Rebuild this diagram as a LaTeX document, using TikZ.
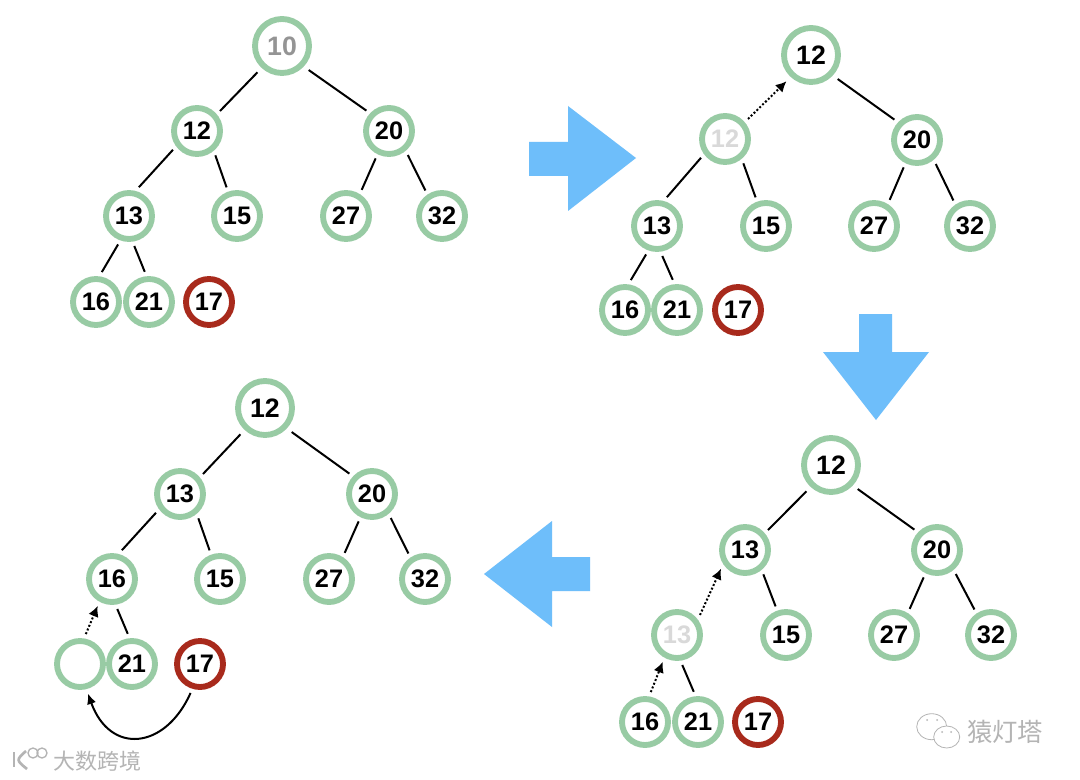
\documentclass[tikz,border=0pt]{standalone}
\usepackage{fontspec}
\setmainfont{Liberation Sans}
\newfontfamily\cjkfont{Noto Sans CJK SC}
\usetikzlibrary{arrows.meta}
\definecolor{ndgreen}{HTML}{98CBA4}
\definecolor{ndred}{HTML}{A82A1C}
\definecolor{bigblue}{HTML}{6EBEFA}
\definecolor{wmgray}{HTML}{B4B4B4}
\tikzset{
  x=0.75pt,y=-0.75pt,
  nd/.style={circle,draw=ndgreen,line width=4.4pt,fill=white,minimum size=34.5pt,inner sep=0pt,outer sep=5.6pt,font=\fontsize{19}{19}\selectfont\bfseries,text=black},
  rootnd/.style={nd,minimum size=40.5pt,outer sep=6.7pt,font=\fontsize{20}{20}\selectfont\bfseries},
  rednd/.style={nd,draw=ndred},
  ghost/.style={text=black!15},
  edge/.style={draw=black,line width=1.5pt},
  dotarrow/.style={draw=black,line width=1.5pt,dash pattern=on 1.5pt off 1.5pt,-{Latex[length=8pt,width=8pt]}},
  curvearrow/.style={draw=black,line width=1.5pt,-{Latex[length=8pt,width=7pt]}},
  bigarrow/.style={fill=bigblue,draw=none},
  marktext/.style={text=wmgray,inner sep=0pt},
  markline/.style={draw=wmgray,line width=0.6pt,fill=white}
}
\newcommand{\commonedges}[1]{%
  \draw[edge] (#1R.-42) -- (#1r.138);
  \draw[edge] (#1l.-53) -- (#1lr.110);
  \draw[edge] (#1r.-116) -- (#1rl.59);
  \draw[edge] (#1r.-52) -- (#1rr.123);
  \draw[edge] (#1ll.-80) -- (#1b.98);
}
\begin{document}
\begin{tikzpicture}
\useasboundingbox (0,0) rectangle (1080,780);
\fill[white] (0,0) rectangle (1080,780);

% big arrows
\fill[bigarrow] (529,142) -- (568,142) -- (568,106) -- (636,158) -- (568,211) -- (568,176) -- (529,176) -- cycle;
\fill[bigarrow] (859,314) -- (892,314) -- (892,352) -- (929,352) -- (876,420) -- (823,352) -- (859,352) -- cycle;
\fill[bigarrow] (590,557) -- (552,557) -- (552,521) -- (484,574) -- (552,627) -- (552,591) -- (590,591) -- cycle;

% tree 1
\node[rootnd,text=black!42] (aR) at (282,46) {10};
\node[nd] (al) at (197,131) {12};
\node[nd] (ar) at (389,131) {20};
\node[nd] (all) at (129,216) {13};
\node[nd] (alr) at (237,216) {15};
\node[nd] (arl) at (346,216) {27};
\node[nd] (arr) at (442,216) {32};
\node[nd] (aa) at (96,302) {16};
\node[nd] (ab) at (149,302) {21};
\node[rednd] (ac) at (209,302) {17};
\commonedges{a}
\draw[edge] (aR.-133) -- (al.41);
\draw[edge] (al.-142) -- (all.71);
\draw[edge] (all.-111) -- (aa.79);

% tree 2
\node[rootnd] (bR) at (811,55) {12};
\node[nd,ghost] (bl) at (725,139) {12};
\node[nd] (br) at (917,140) {20};
\node[nd] (bll) at (657,226) {13};
\node[nd] (blr) at (766,226) {15};
\node[nd] (brl) at (874,226) {27};
\node[nd] (brr) at (970,226) {32};
\node[nd] (ba) at (625,310) {16};
\node[nd] (bb) at (677,310) {21};
\node[rednd] (bc) at (738,310) {17};
\commonedges{b}
\draw[dotarrow] (bl.41) -- (bR.-133);
\draw[edge] (bl.-142) -- (bll.71);
\draw[edge] (bll.-111) -- (ba.79);

% tree 3
\node[rootnd] (cR) at (831,465) {12};
\node[nd] (cl) at (745,550) {13};
\node[nd] (cr) at (937,550) {20};
\node[nd,ghost] (cll) at (677,635) {13};
\node[nd] (clr) at (786,635) {15};
\node[nd] (crl) at (894,635) {27};
\node[nd] (crr) at (991,635) {32};
\node[nd] (ca) at (645,722) {16};
\node[nd] (cb) at (698,722) {21};
\node[rednd] (cc) at (758,722) {17};
\commonedges{c}
\draw[edge] (cR.-133) -- (cl.41);
\draw[dotarrow] (cll.41) -- (cl.-142);
\draw[dotarrow] (ca.79) -- (cll.-118);

% tree 4
\node[rootnd] (dR) at (265,408) {12};
\node[nd] (dl) at (180,494) {13};
\node[nd] (dr) at (372,494) {20};
\node[nd] (dll) at (112,579) {16};
\node[nd] (dlr) at (220,579) {15};
\node[nd] (drl) at (329,579) {27};
\node[nd] (drr) at (425,579) {32};
\node[nd] (da) at (80,664) {};
\node[nd] (db) at (132,664) {21};
\node[rednd] (dc) at (200,664) {17};
\commonedges{d}
\draw[edge] (dR.-133) -- (dl.41);
\draw[edge] (dl.-142) -- (dll.71);
\draw[dotarrow] (da.79) -- (dll.-118);
\draw[curvearrow] (dc.-108) .. controls (165,750) and (110,755) .. (da.-75);

% watermarks
\draw[markline] (931.7,726.7) ellipse (15 and 13);
\draw[markline] (946.7,737) ellipse (13 and 11);
\fill[wmgray] (927,720) circle (1) (937,720) circle (1) (942,732) circle (1) (951,732) circle (1);
\node[marktext,font=\cjkfont\fontsize{19}{19}\selectfont] (wmr) at (1005,732) {猿灯塔};
\node[marktext,font=\cjkfont\fontsize{16.5}{16.5}\selectfont] (wml) at (97,761) {大数跨境};
\draw[draw=wmgray,line width=2pt] (14,752) -- (14,767);
\draw[draw=wmgray,line width=2pt] (26,751) .. controls (16,760) .. (27,769);
\draw[draw=wmgray,line width=1pt] (33,753) circle (5);
\draw[draw=wmgray,line width=1pt] (42,753) circle (5);
\end{tikzpicture}
\end{document}
